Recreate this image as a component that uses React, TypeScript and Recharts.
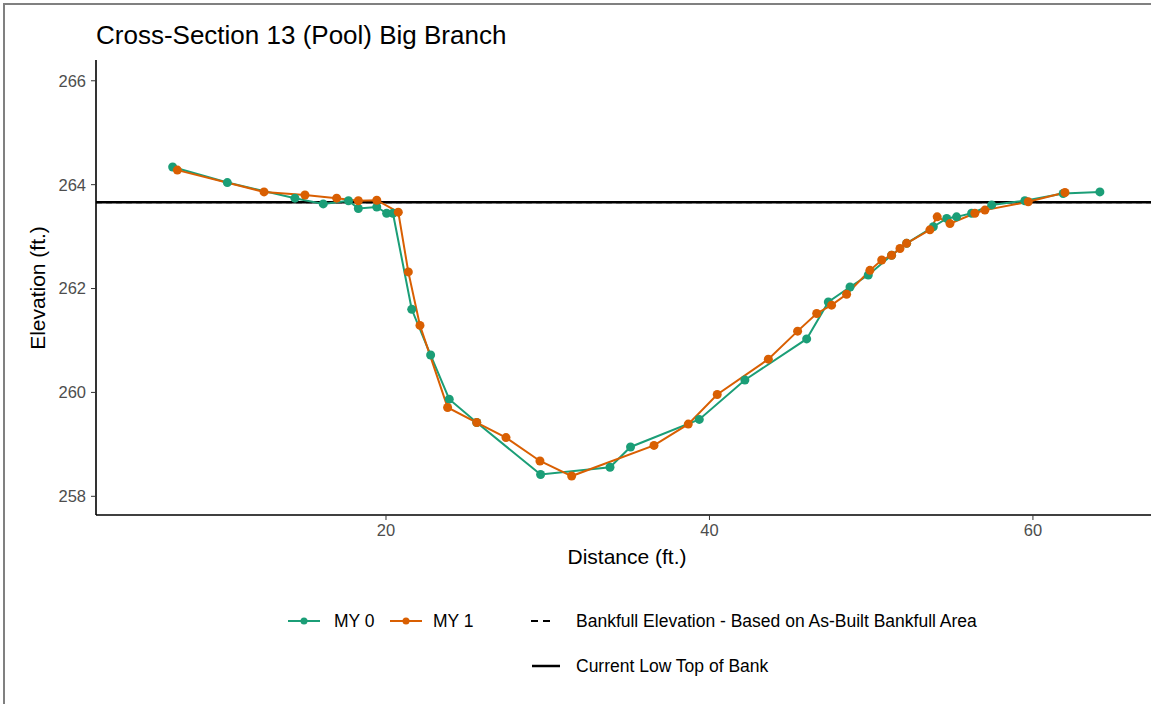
import { LineChart, Line, XAxis, YAxis, ReferenceLine } from 'recharts';

// MY 0 survey (teal)
const my0Distance = [6.81, 10.19, 14.37, 16.12, 17.68, 18.29, 19.43, 20.04, 20.43, 21.59, 22.76, 23.91, 25.61, 29.56, 33.85, 35.12, 39.37, 42.19, 46.01, 47.35, 48.69, 49.82, 51.26, 52.19, 53.84, 54.67, 55.28, 56.21, 57.45, 59.5, 61.87, 64.14];
const my0Elevation = [264.34, 264.04, 263.74, 263.63, 263.69, 263.54, 263.57, 263.45, 263.45, 261.6, 260.72, 259.87, 259.42, 258.42, 258.56, 258.95, 259.48, 260.24, 261.03, 261.74, 262.03, 262.26, 262.64, 262.87, 263.19, 263.35, 263.38, 263.45, 263.61, 263.69, 263.83, 263.86];

// MY 1 survey (orange)
const my1Distance = [7.1, 12.46, 14.99, 16.95, 18.29, 19.43, 20.76, 21.38, 22.1, 23.81, 25.61, 27.42, 29.52, 31.48, 36.57, 38.69, 40.48, 43.64, 45.45, 46.63, 47.55, 48.48, 49.92, 50.65, 51.26, 51.78, 52.19, 53.63, 54.08, 54.87, 56.41, 57.03, 59.71, 61.98];
const my1Elevation = [264.28, 263.86, 263.8, 263.74, 263.69, 263.7, 263.47, 262.32, 261.29, 259.71, 259.42, 259.13, 258.68, 258.39, 258.98, 259.39, 259.96, 260.64, 261.18, 261.52, 261.68, 261.89, 262.35, 262.55, 262.64, 262.77, 262.87, 263.13, 263.38, 263.25, 263.45, 263.51, 263.67, 263.85];

const bankfullElevation = 263.66;
const lowTopOfBank = 263.66;

const xTicks = [20, 40, 60];
const yTicks = [258, 260, 262, 264, 266];

const TEAL = '#1b9e77';
const ORANGE = '#d95f02';
const FONT = '"Liberation Sans", Arial, Helvetica, sans-serif';

const my0 = my0Distance.map((d, i) => ({ distance: d, elevation: my0Elevation[i] }));
const my1 = my1Distance.map((d, i) => ({ distance: d, elevation: my1Elevation[i] }));

export default function App() {
  return (
    <div style={{ position: 'fixed', left: 0, top: 0, width: 1151, height: 704, background: '#fff', fontFamily: FONT }}>
      <LineChart width={1151} height={704} margin={{ top: 60, right: 0, left: 0, bottom: 139 }}>
        <XAxis
          type="number"
          dataKey="distance"
          domain={[2.07, 67.3]}
          ticks={xTicks}
          height={50}
          allowDataOverflow
          axisLine={{ stroke: '#000', strokeWidth: 1.6 }}
          tickLine={{ stroke: '#333' }}
          tickSize={5}
          tickMargin={4}
          tick={{ fill: '#4d4d4d', fontSize: 16.5, fontFamily: FONT }}
        />
        <YAxis
          type="number"
          dataKey="elevation"
          domain={[257.64, 266.4]}
          ticks={yTicks}
          width={96}
          allowDataOverflow
          axisLine={{ stroke: '#000', strokeWidth: 1.6 }}
          tickLine={{ stroke: '#333' }}
          tickSize={5}
          tickMargin={5}
          tick={{ fill: '#4d4d4d', fontSize: 16.5, fontFamily: FONT }}
        />
        <ReferenceLine y={bankfullElevation} stroke="#000" strokeWidth={2} strokeDasharray="6 4" />
        <ReferenceLine y={lowTopOfBank} stroke="#000" strokeWidth={2.5} />
        <Line
          data={my0}
          dataKey="elevation"
          type="linear"
          stroke={TEAL}
          strokeWidth={2}
          dot={{ r: 4.5, fill: TEAL, stroke: TEAL, strokeWidth: 0 }}
          isAnimationActive={false}
        />
        <Line
          data={my1}
          dataKey="elevation"
          type="linear"
          stroke={ORANGE}
          strokeWidth={2}
          dot={{ r: 4.5, fill: ORANGE, stroke: ORANGE, strokeWidth: 0 }}
          isAnimationActive={false}
        />
      </LineChart>
      <svg width={1151} height={704} style={{ position: 'absolute', left: 0, top: 0, pointerEvents: 'none' }} fontFamily={FONT}>
        <rect x={4} y={4} width={1300} height={900} fill="none" stroke="#808080" strokeWidth={2} />
        <text x={96} y={44} fontSize={26} fill="#000">Cross-Section 13 (Pool) Big Branch</text>
        <text x={627} y={564} fontSize={21} fill="#000" textAnchor="middle">Distance (ft.)</text>
        <text x={45} y={288} fontSize={21} fill="#000" textAnchor="middle" transform="rotate(-90 45 288)">Elevation (ft.)</text>

        <line x1={288} x2={320} y1={621} y2={621} stroke={TEAL} strokeWidth={2} />
        <circle cx={304} cy={621} r={3.5} fill={TEAL} />
        <text x={334} y={627} fontSize={17.5} fill="#000">MY 0</text>
        <line x1={390} x2={422} y1={621} y2={621} stroke={ORANGE} strokeWidth={2} />
        <circle cx={406} cy={621} r={3.5} fill={ORANGE} />
        <text x={433} y={627} fontSize={17.5} fill="#000">MY 1</text>
        <line x1={531} x2={551} y1={621} y2={621} stroke="#000" strokeWidth={2} strokeDasharray="7 5" />
        <text x={576} y={627} fontSize={17.5} fill="#000">Bankfull Elevation - Based on As-Built Bankfull Area</text>
        <line x1={532} x2={560} y1={666} y2={666} stroke="#000" strokeWidth={2.5} />
        <text x={576} y={672} fontSize={17.5} fill="#000">Current Low Top of Bank</text>
      </svg>
    </div>
  );
}
